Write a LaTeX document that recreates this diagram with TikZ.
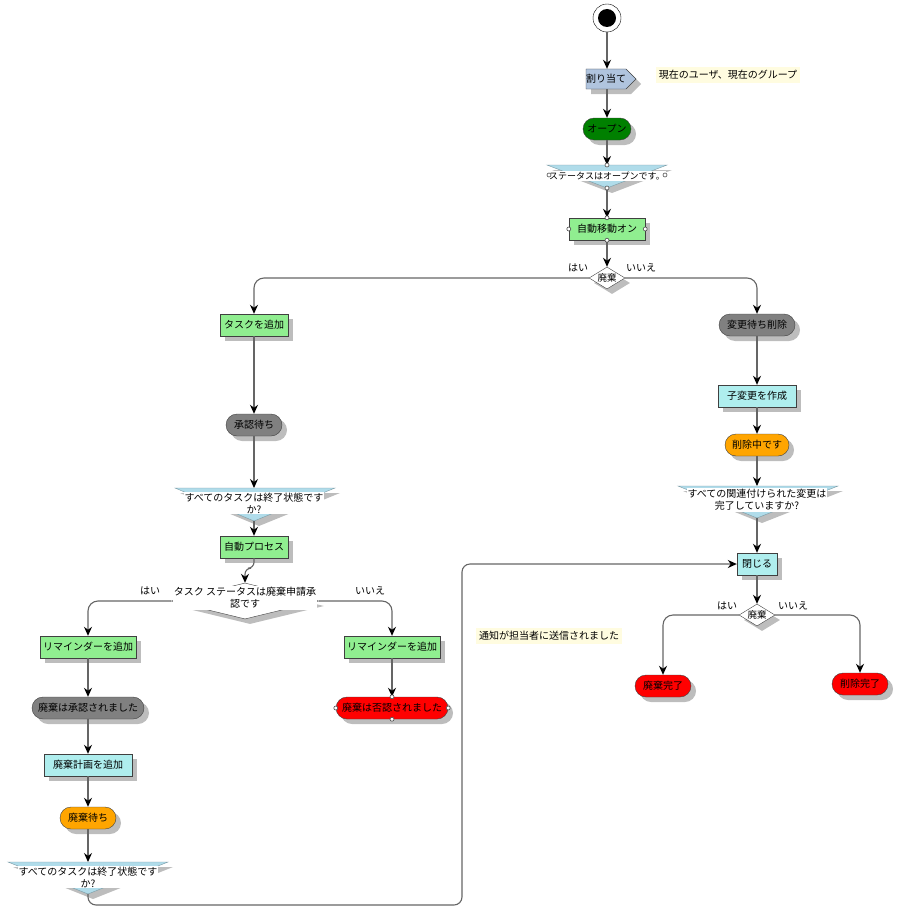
\documentclass[tikz,border=0pt]{standalone}
\usepackage{fontspec}
\setmainfont{Noto Sans CJK JP}
\usetikzlibrary{shapes.geometric,shapes.symbols,shadows,arrows.meta}
\definecolor{actgreen}{HTML}{90EE90}
\definecolor{actcyan}{HTML}{AFEEEE}
\definecolor{pillgray}{HTML}{808080}
\definecolor{pillorange}{HTML}{FFA500}
\definecolor{pillred}{HTML}{FF0000}
\definecolor{opengreen}{HTML}{008000}
\definecolor{assignblue}{HTML}{B0C4DE}
\definecolor{funblue}{HTML}{B0DCEA}
\definecolor{noteyellow}{HTML}{FFFCE0}
\definecolor{linegray}{HTML}{656565}
\definecolor{shadowgray}{HTML}{BDBDBD}

\begin{document}
\begin{tikzpicture}[x=1pt, y=-1pt,
	every node/.style={font=\fontsize{10}{12}\selectfont, inner sep=1pt},
	boxshadow/.style={drop shadow={shadow xshift=5pt, shadow yshift=-5pt, fill=shadowgray, opacity=1}},
	actbox/.style={rectangle, draw=black!75, fill=actgreen, minimum height=22pt, boxshadow},
	cyanbox/.style={actbox, fill=actcyan},
	pill/.style={rectangle, rounded corners=11pt, draw=black!75, minimum height=22pt, boxshadow},
	decision/.style={diamond, draw=black!75, fill=white, inner sep=0pt, boxshadow},
	funtext/.style={fill=white, align=center, inner sep=1pt},
	note/.style={fill=noteyellow, inner sep=3pt},
	flow/.style={draw=linegray, line width=1.1pt, -{Stealth[length=9pt, width=8pt, black]}},
	port/.style={circle, draw=black!70, fill=white, inner sep=0pt, minimum size=4pt, line width=0.6pt},
	]
	\useasboundingbox (0,0) rectangle (897,907);
	%Nodes
	\node[circle, draw=black, fill=white, minimum size=28pt, inner sep=0pt] (start) at (607,18) {};
	\fill[black] (start.center) circle (9);
	%
	\node[signal, signal to=east, draw=black!75, fill=assignblue, minimum height=20pt, minimum width=50pt, inner xsep=0pt, boxshadow] (assign) at (606,79) {割り当て};
	\node[note] (usernote) at (728,75) {現在のユーザ、現在のグループ};
	%
	\node[pill, fill=opengreen, minimum width=48pt] (open) at (607,129) {オープン};
	%
	\fill[shadowgray] (552,170) -- (672,170) -- (612,193) -- cycle;
	\filldraw[fill=funblue, draw=funblue!70!black, line width=0.4pt] (547,165) -- (667,165) -- (607,188) -- cycle;
	\coordinate (st-top) at (607,165);
	\coordinate (st-tip) at (607,188);
	\node[funtext, font=\fontsize{9}{11}\selectfont, minimum width=118pt] (status) at (607,176) {ステータスはオープンです。};
	%
	\node[actbox, minimum width=76pt] (autoon) at (607,229) {自動移動オン};
	\node[decision, minimum width=36pt, minimum height=22pt, label={[font=\fontsize{9.5}{10}\selectfont]center:廃棄}] (discard1) at (607,278) {};
	\node (yes1) at (578,268) {はい};
	\node (no1) at (641,268) {いいえ};
	%
	% left branch
	\node[actbox, minimum width=68pt] (addtask) at (254,325) {タスクを追加};
	\node[pill, fill=pillgray, minimum width=56pt] (approvewait) at (254,425) {承認待ち};
	%
	\fill[shadowgray] (180,493) -- (340,493) -- (259,526) -- cycle;
	\filldraw[fill=funblue, draw=funblue!70!black, line width=0.4pt] (175,488) -- (335,488) -- (254,521) -- cycle;
	\coordinate (alldone1-top) at (254,488);
	\coordinate (alldone1-tip) at (254,521);
	\node[funtext] (alldone1) at (254,503) {すべてのタスクは終了状態です\\か?};
	%
	\node[actbox, minimum width=68pt] (autoproc) at (254,547) {自動プロセス};
	\node[decision, minimum width=148pt, minimum height=36pt] (taskstatus) at (245,601) {};
	\node[funtext] (taskstatus-text) at (245,598) {タスク ステータスは廃棄申請承\\認です};
	\node (yes2) at (150,591) {はい};
	\node (no2) at (370,591) {いいえ};
	%
	\node[actbox, minimum width=96pt] (remindL) at (88,647) {リマインダーを追加};
	\node[pill, fill=pillgray, minimum width=112pt] (approved) at (88,708) {廃棄は承認されました};
	\node[cyanbox, minimum width=88pt] (addplan) at (88,765) {廃棄計画を追加};
	\node[pill, fill=pillorange, minimum width=56pt] (discardwait) at (88,818) {廃棄待ち};
	%
	\fill[shadowgray] (13,867) -- (173,867) -- (93,899) -- cycle;
	\filldraw[fill=funblue, draw=funblue!70!black, line width=0.4pt] (8,862) -- (168,862) -- (88,894) -- cycle;
	\coordinate (alldone2-top) at (88,862);
	\coordinate (alldone2-tip) at (88,894);
	\node[funtext] (alldone2) at (88,877) {すべてのタスクは終了状態です\\か?};
	%
	\node[actbox, minimum width=96pt] (remindR) at (392,647) {リマインダーを追加};
	\node[pill, fill=pillred, minimum width=112pt] (rejected) at (392,708) {廃棄は否認されました};
	\node[note] (mailnote) at (549,636) {通知が担当者に送信されました};
	%
	% right branch
	\node[pill, fill=pillgray, minimum width=76pt] (holddel) at (757,325) {変更待ち削除};
	\node[cyanbox, minimum width=78pt] (child) at (757,396) {子変更を作成};
	\node[pill, fill=pillorange, minimum width=64pt] (deleting) at (757,445) {削除中です};
	%
	\fill[shadowgray] (683,491) -- (843,491) -- (762,523) -- cycle;
	\filldraw[fill=funblue, draw=funblue!70!black, line width=0.4pt] (678,486) -- (838,486) -- (757,518) -- cycle;
	\coordinate (related-top) at (757,486);
	\coordinate (related-tip) at (757,518);
	\node[funtext] (related) at (757,500) {すべての関連付けられた変更は\\完了していますか?};
	%
	\node[cyanbox, minimum width=40pt] (close) at (757,564) {閉じる};
	\node[decision, minimum width=36pt, minimum height=22pt, label={[font=\fontsize{9.5}{10}\selectfont]center:廃棄}] (discard2) at (757,615) {};
	\node (yes3) at (727,606) {はい};
	\node (no3) at (793,606) {いいえ};
	\node[pill, fill=pillred, minimum width=56pt] (discarded) at (663,686) {廃棄完了};
	\node[pill, fill=pillred, minimum width=56pt] (deleted) at (860,684) {削除完了};
	
	%Connectors
	\draw[flow] (start) -- (start |- assign.north);
	\draw[flow] (open |- assign.south) -- (open);
	\draw[flow] (open) -- (st-top);
	\draw[flow] (st-tip) -- (autoon);
	\draw[flow] (autoon) -- (discard1);
	\draw[flow, rounded corners=10pt] (discard1.west) -| (addtask.north);
	\draw[flow, rounded corners=10pt] (discard1.east) -| (holddel.north);
	%
	\draw[flow] (addtask) -- (approvewait);
	\draw[flow] (approvewait) -- (alldone1-top);
	\draw[flow] (alldone1-tip) -- (autoproc);
	\draw[flow, rounded corners=6pt] (autoproc.south) -- ++(0,10) -| (taskstatus.north);
	\draw[flow, rounded corners=10pt] (taskstatus.west) -| (remindL.north);
	\draw[flow, rounded corners=10pt] (taskstatus.east) -| (remindR.north);
	%
	\draw[flow] (remindL) -- (approved);
	\draw[flow] (approved) -- (addplan);
	\draw[flow] (addplan) -- (discardwait);
	\draw[flow] (discardwait) -- (alldone2-top);
	\draw[flow, rounded corners=8pt] (alldone2-tip) -- ++(0,11) -- ++(374,0) |- (close.west);
	\draw[flow] (remindR) -- (rejected);
	%
	\draw[flow] (holddel) -- (child);
	\draw[flow] (child) -- (deleting);
	\draw[flow] (deleting) -- (related-top);
	\draw[flow] (related-tip) -- (close);
	\draw[flow] (close) -- (discard2);
	\draw[flow, rounded corners=10pt] (discard2.west) -| (discarded.north);
	\draw[flow, rounded corners=10pt] (discard2.east) -| (deleted.north);
	%
	% ports
	\node[port] (st-n) at (st-top) {};
	\node[port] (st-s) at (st-tip) {};
	\node[port] (st-w) at (549,175) {};
	\node[port] (st-e) at (665,175) {};
	\foreach \a in {north,south,east,west}
		\node[port] (ao-\a) at (autoon.\a) {};
	\foreach \a in {north,south,east,west}
		\node[port] (rj-\a) at (rejected.\a) {};
\end{tikzpicture}
\end{document}
